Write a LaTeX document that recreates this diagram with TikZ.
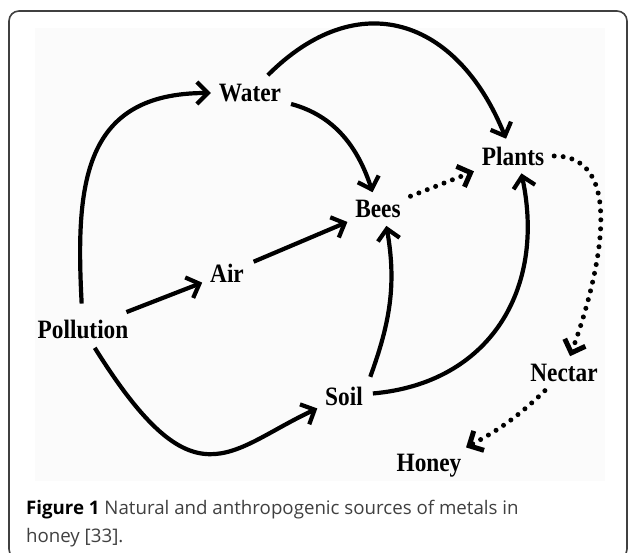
\documentclass[tikz,border=0pt]{standalone}
\usepackage{fontspec}
\setmainfont{Liberation Serif}
\newfontfamily\labelfont[FakeStretch=0.88]{Liberation Serif}
\newfontfamily\capfont{Open Sans}
\usetikzlibrary{arrows.meta}

\begin{document}
\begin{tikzpicture}[x=1pt,y=1pt,->,>={Straight Barb[length=11pt,width=22pt]},
  shorten >=2pt,shorten <=4pt,auto,line width=4.2pt,
  main node/.style={rectangle,inner sep=4pt,
  font=\labelfont\fontsize{26.5}{28}\selectfont\bfseries},
  dots/.style={line width=5pt,dash pattern=on 0pt off 9pt,line cap=round},
  cap node/.style={anchor=west,align=left,inner sep=0pt,text=black!75,
  font=\capfont\fontsize{18.7}{28}\selectfont}]

  \useasboundingbox (0,0) rectangle (629,553);
  %frame and picture area%
  \draw[-,line width=1.6pt,black!75,rounded corners=10pt] (9,-6) rectangle (627,542);
  \fill[black!1.5] (35,72) rectangle (605,525);

  \node[main node] (W) at (250,460) {Water};
  \node[main node] (Pl) at (513,397) {Plants};
  \node[main node] (B) at (378,344) {Bees};
  \node[main node] (A) at (227,280) {Air};
  \node[main node] (P) at (83,224) {Pollution};
  \node[main node] (S) at (344,157) {Soil};
  \node[main node] (N) at (564,180) {Nectar};
  \node[main node] (H) at (429,87) {Honey};

  \node[cap node] (C) at (24,29) {{\color{black}\bfseries Figure 1} Natural and anthropogenic sources of metals in\\honey [33].};

  \path
    %Pollution to Water, Air and Soil%
    (P) edge [out=93,in=180,looseness=1.3,shorten <=10pt] (W)
    (P) edge [] (A)
    (P) edge [out=-58,in=205,out looseness=2.1,in looseness=1.1] (S)

    %Water to Plants and Bees%
    (W) edge [out=45,in=112,looseness=1.35] (Pl)
    (W) edge [out=-15,in=108] (B)

    %Air to Bees%
    (A) edge [] (B)

    %Soil to Bees and Plants%
    (S.north east) edge [out=70,in=-80] ([xshift=8pt]B.south)
    (S) edge [out=5,in=-78,looseness=1.15] ([xshift=8pt]Pl.south)

    %dotted ones: Bees to Plants, Plants to Nectar, Nectar to Honey%
    (B) edge [dots] (Pl)
    (Pl) edge [dots,out=0,in=70] (N)
    (N) edge [dots,bend left=8] (H);

\end{tikzpicture}
\end{document}
